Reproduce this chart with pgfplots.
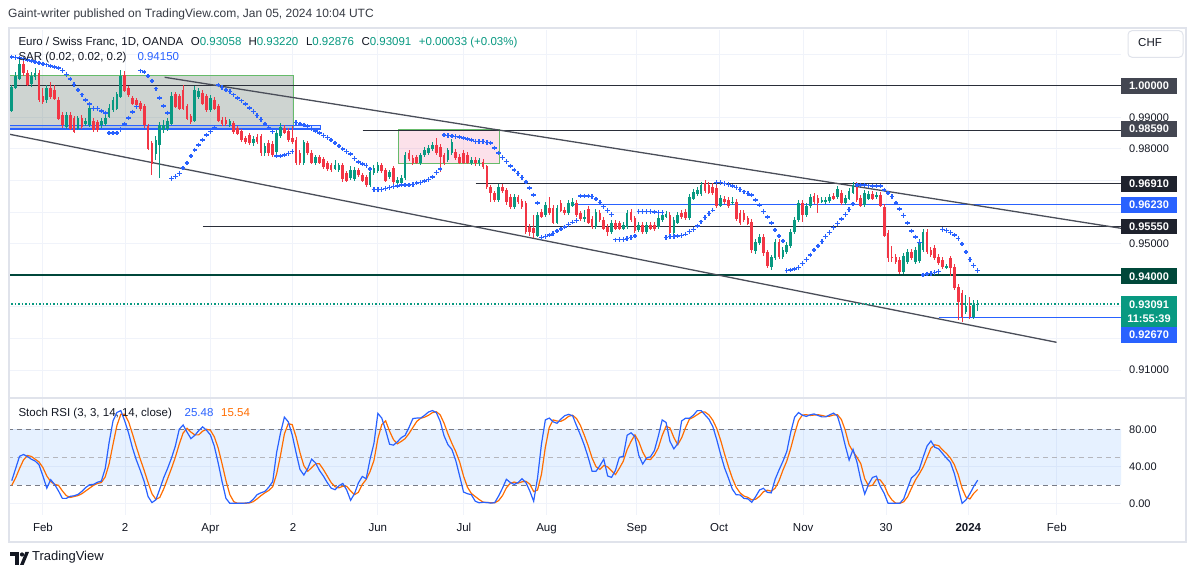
\documentclass[border=0pt]{standalone}
\usepackage{pgfplots}
\pgfplotsset{compat=1.18}
\usepackage{pgfplotstable}
\usepackage{fontspec}
\setmainfont{Liberation Sans}
\definecolor{upc}{HTML}{089981}
\definecolor{dnc}{HTML}{F23645}
\definecolor{sarc}{HTML}{2962FF}
\definecolor{orc}{HTML}{FF6D00}
\definecolor{txt}{HTML}{131722}
\definecolor{gridc}{HTML}{F0F3FA}
\definecolor{framec}{HTML}{E0E3EB}
\definecolor{linec}{HTML}{2A2E39}
\definecolor{trendc}{HTML}{4A4E59}
\definecolor{greenl}{HTML}{00473B}
\definecolor{boxbase}{HTML}{5D7268}
\definecolor{boxe}{HTML}{66BB6A}
\definecolor{pinkbase}{HTML}{E91E63}
\definecolor{dashc}{HTML}{787B86}
\definecolor{lblc}{HTML}{434651}
\definecolor{lbld}{HTML}{1E222D}
\definecolor{lblg}{HTML}{00483A}

\pgfplotstableread{
i O H L C
-8 0.9921 1.0002 0.9917 0.9994
-7 0.9994 1.0043 0.9990 1.0028
-6 1.0024 1.0088 1.0018 1.0069
-3 1.0005 1.0043 0.9996 1.0028
-2 1.0028 1.0056 1.0018 1.0040
1 0.9955 1.0002 0.9945 0.9992
6 0.9870 0.9917 0.9863 0.9907
9 0.9865 0.9904 0.9860 0.9897
11 0.9881 0.9898 0.9872 0.9886
12 0.9876 0.9939 0.9869 0.9928
15 0.9876 0.9898 0.9866 0.9886
16 0.9879 0.9907 0.9872 0.9897
17 0.9902 0.9942 0.9898 0.9928
18 0.9923 0.9964 0.9917 0.9955
19 0.9928 0.9980 0.9923 0.9971
20 0.9965 1.0050 0.9961 1.0029
29 0.9786 0.9841 0.9765 0.9828
30 0.9812 0.9885 0.9709 0.9876
31 0.9860 0.9891 0.9850 0.9876
32 0.9865 0.9898 0.9857 0.9886
33 0.9881 0.9980 0.9876 0.9965
39 0.9891 0.9999 0.9885 0.9986
40 0.9965 0.9993 0.9958 0.9981
43 0.9923 0.9971 0.9917 0.9960
48 0.9876 0.9895 0.9869 0.9886
54 0.9819 0.9841 0.9809 0.9831
57 0.9787 0.9819 0.9777 0.9809
60 0.9790 0.9860 0.9781 0.9850
61 0.9841 0.9883 0.9834 0.9869
67 0.9755 0.9828 0.9749 0.9819
70 0.9755 0.9781 0.9749 0.9774
75 0.9739 0.9765 0.9733 0.9749
76 0.9733 0.9755 0.9727 0.9749
79 0.9708 0.9746 0.9701 0.9733
80 0.9705 0.9743 0.9698 0.9733
84 0.9686 0.9733 0.9679 0.9727
85 0.9724 0.9749 0.9717 0.9739
86 0.9730 0.9758 0.9724 0.9749
89 0.9711 0.9733 0.9705 0.9727
91 0.9692 0.9711 0.9682 0.9701
92 0.9692 0.9717 0.9686 0.9708
93 0.9708 0.9790 0.9701 0.9781
97 0.9755 0.9787 0.9749 0.9781
98 0.9781 0.9806 0.9774 0.9796
99 0.9787 0.9812 0.9781 0.9803
100 0.9800 0.9822 0.9793 0.9812
104 0.9765 0.9803 0.9758 0.9796
105 0.9787 0.9831 0.9781 0.9822
110 0.9755 0.9774 0.9749 0.9765
112 0.9755 0.9771 0.9746 0.9762
117 0.9638 0.9689 0.9632 0.9679
121 0.9616 0.9657 0.9610 0.9648
127 0.9527 0.9600 0.9521 0.9591
129 0.9591 0.9632 0.9584 0.9622
132 0.9568 0.9622 0.9562 0.9613
135 0.9597 0.9638 0.9591 0.9629
136 0.9622 0.9644 0.9616 0.9632
139 0.9578 0.9606 0.9568 0.9584
142 0.9553 0.9610 0.9546 0.9600
146 0.9537 0.9575 0.9530 0.9565
149 0.9549 0.9568 0.9543 0.9559
150 0.9553 0.9606 0.9546 0.9597
153 0.9543 0.9568 0.9537 0.9559
155 0.9537 0.9568 0.9530 0.9559
158 0.9553 0.9591 0.9546 0.9581
159 0.9575 0.9600 0.9568 0.9591
160 0.9587 0.9603 0.9581 0.9594
162 0.9534 0.9584 0.9527 0.9575
163 0.9568 0.9600 0.9562 0.9591
166 0.9581 0.9657 0.9575 0.9648
167 0.9644 0.9673 0.9638 0.9663
168 0.9657 0.9679 0.9651 0.9670
169 0.9657 0.9695 0.9651 0.9686
174 0.9622 0.9654 0.9616 0.9644
177 0.9629 0.9648 0.9622 0.9632
183 0.9477 0.9515 0.9467 0.9505
184 0.9502 0.9530 0.9496 0.9521
187 0.9426 0.9464 0.9417 0.9455
188 0.9455 0.9515 0.9448 0.9505
190 0.9458 0.9490 0.9452 0.9480
191 0.9474 0.9505 0.9467 0.9496
192 0.9493 0.9546 0.9486 0.9537
193 0.9537 0.9584 0.9530 0.9575
194 0.9575 0.9638 0.9568 0.9629
196 0.9591 0.9629 0.9584 0.9619
197 0.9619 0.9657 0.9613 0.9648
200 0.9635 0.9648 0.9629 0.9638
201 0.9632 0.9648 0.9625 0.9638
202 0.9635 0.9657 0.9629 0.9648
204 0.9648 0.9682 0.9641 0.9673
206 0.9629 0.9654 0.9622 0.9644
207 0.9644 0.9676 0.9638 0.9667
208 0.9663 0.9695 0.9657 0.9686
211 0.9622 0.9670 0.9616 0.9660
212 0.9644 0.9667 0.9638 0.9657
214 0.9648 0.9663 0.9641 0.9654
221 0.9410 0.9471 0.9404 0.9461
222 0.9442 0.9483 0.9436 0.9474
224 0.9442 0.9490 0.9436 0.9480
225 0.9445 0.9515 0.9439 0.9505
226 0.9480 0.9546 0.9474 0.9537
232 0.9426 0.9436 0.9420 0.9429
237 0.9284 0.9338 0.9277 0.9303
239 0.9268 0.9322 0.9261 0.9306
240 0.93058 0.93220 0.92876 0.93091
}\uptab

\pgfplotstableread{
i O H L C
-5 1.0069 1.0081 1.0031 1.0040
-4 1.0040 1.0050 0.9999 1.0005
-1 1.0040 1.0050 0.9948 0.9955
0 0.9967 0.9993 0.9942 0.9950
2 0.9992 1.0012 0.9958 0.9965
3 0.9986 1.0002 0.9955 0.9960
4 0.9955 0.9964 0.9891 0.9897
5 0.9907 0.9917 0.9866 0.9876
7 0.9907 0.9917 0.9860 0.9865
8 0.9897 0.9904 0.9850 0.9854
10 0.9897 0.9907 0.9863 0.9870
13 0.9886 0.9898 0.9853 0.9860
14 0.9883 0.9891 0.9853 0.9860
21 1.0034 1.0047 0.9980 0.9986
22 0.9992 0.9999 0.9964 0.9971
23 0.9960 0.9967 0.9939 0.9944
24 0.9955 0.9961 0.9933 0.9939
25 0.9944 0.9952 0.9920 0.9928
26 0.9934 0.9942 0.9866 0.9876
27 0.9870 0.9879 0.9796 0.9802
28 0.9818 0.9825 0.9717 0.9754
34 0.9971 0.9980 0.9929 0.9934
35 0.9965 0.9974 0.9923 0.9928
36 0.9986 1.0002 0.9923 0.9928
37 0.9934 0.9942 0.9891 0.9897
38 0.9902 0.9910 0.9879 0.9886
41 0.9976 0.9986 0.9939 0.9944
42 0.9965 0.9974 0.9917 0.9923
44 0.9955 0.9964 0.9923 0.9928
45 0.9934 0.9942 0.9885 0.9891
46 0.9891 0.9901 0.9872 0.9881
47 0.9891 0.9901 0.9872 0.9881
49 0.9881 0.9888 0.9847 0.9854
50 0.9865 0.9872 0.9844 0.9849
51 0.9854 0.9863 0.9822 0.9828
52 0.9833 0.9841 0.9815 0.9823
53 0.9844 0.9850 0.9812 0.9819
55 0.9838 0.9847 0.9815 0.9822
56 0.9838 0.9847 0.9777 0.9787
58 0.9819 0.9828 0.9777 0.9787
59 0.9815 0.9825 0.9774 0.9781
62 0.9866 0.9876 0.9847 0.9853
63 0.9857 0.9866 0.9822 0.9828
64 0.9834 0.9872 0.9815 0.9822
65 0.9828 0.9838 0.9749 0.9755
66 0.9787 0.9796 0.9749 0.9755
68 0.9819 0.9825 0.9781 0.9787
69 0.9787 0.9796 0.9752 0.9758
71 0.9774 0.9781 0.9752 0.9758
72 0.9768 0.9774 0.9736 0.9743
73 0.9755 0.9762 0.9730 0.9739
74 0.9749 0.9755 0.9727 0.9733
77 0.9749 0.9755 0.9695 0.9705
78 0.9724 0.9730 0.9695 0.9701
81 0.9733 0.9739 0.9711 0.9717
82 0.9717 0.9724 0.9695 0.9701
83 0.9711 0.9717 0.9679 0.9686
87 0.9749 0.9755 0.9724 0.9730
88 0.9733 0.9739 0.9695 0.9701
90 0.9739 0.9746 0.9689 0.9695
94 0.9787 0.9796 0.9762 0.9768
95 0.9771 0.9781 0.9749 0.9755
96 0.9774 0.9781 0.9752 0.9758
101 0.9812 0.9834 0.9781 0.9787
102 0.9806 0.9815 0.9727 0.9774
103 0.9781 0.9787 0.9749 0.9755
106 0.9790 0.9800 0.9765 0.9771
107 0.9774 0.9784 0.9752 0.9758
108 0.9787 0.9796 0.9752 0.9758
109 0.9781 0.9790 0.9752 0.9758
111 0.9765 0.9774 0.9746 0.9755
113 0.9758 0.9768 0.9736 0.9743
114 0.9743 0.9749 0.9673 0.9679
115 0.9679 0.9686 0.9632 0.9660
116 0.9660 0.9667 0.9632 0.9638
118 0.9679 0.9689 0.9660 0.9667
119 0.9670 0.9676 0.9622 0.9632
120 0.9648 0.9657 0.9610 0.9616
122 0.9648 0.9654 0.9625 0.9632
123 0.9635 0.9641 0.9610 0.9616
124 0.9629 0.9635 0.9530 0.9537
125 0.9553 0.9562 0.9524 0.9537
126 0.9549 0.9591 0.9518 0.9534
128 0.9600 0.9610 0.9581 0.9587
130 0.9613 0.9648 0.9591 0.9597
131 0.9613 0.9622 0.9562 0.9568
133 0.9629 0.9638 0.9600 0.9606
134 0.9606 0.9616 0.9591 0.9597
137 0.9629 0.9638 0.9584 0.9591
138 0.9597 0.9603 0.9572 0.9578
140 0.9610 0.9619 0.9562 0.9568
141 0.9578 0.9587 0.9546 0.9553
143 0.9597 0.9606 0.9568 0.9575
144 0.9575 0.9584 0.9543 0.9549
145 0.9553 0.9562 0.9524 0.9537
147 0.9565 0.9575 0.9543 0.9549
148 0.9565 0.9572 0.9543 0.9549
151 0.9600 0.9610 0.9568 0.9575
152 0.9581 0.9587 0.9534 0.9540
154 0.9559 0.9568 0.9530 0.9537
156 0.9559 0.9568 0.9543 0.9549
157 0.9559 0.9568 0.9540 0.9546
161 0.9591 0.9600 0.9527 0.9534
164 0.9597 0.9606 0.9578 0.9584
165 0.9600 0.9610 0.9575 0.9581
170 0.9692 0.9701 0.9660 0.9667
171 0.9686 0.9695 0.9657 0.9663
172 0.9679 0.9692 0.9654 0.9660
173 0.9676 0.9686 0.9613 0.9619
175 0.9641 0.9651 0.9625 0.9632
176 0.9638 0.9648 0.9613 0.9619
178 0.9632 0.9641 0.9572 0.9578
179 0.9597 0.9606 0.9559 0.9565
180 0.9597 0.9606 0.9568 0.9575
181 0.9581 0.9587 0.9559 0.9565
182 0.9568 0.9578 0.9471 0.9480
185 0.9521 0.9530 0.9461 0.9471
186 0.9471 0.9480 0.9423 0.9429
189 0.9505 0.9515 0.9452 0.9458
195 0.9629 0.9638 0.9568 0.9591
198 0.9651 0.9660 0.9625 0.9632
199 0.9644 0.9654 0.9597 0.9629
203 0.9651 0.9660 0.9638 0.9644
205 0.9660 0.9670 0.9622 0.9629
209 0.9686 0.9695 0.9632 0.9638
210 0.9644 0.9654 0.9616 0.9622
213 0.9657 0.9667 0.9638 0.9644
215 0.9654 0.9663 0.9616 0.9622
216 0.9616 0.9625 0.9521 0.9527
217 0.9534 0.9543 0.9442 0.9455
218 0.9458 0.9493 0.9442 0.9455
219 0.9458 0.9467 0.9436 0.9442
220 0.9448 0.9458 0.9404 0.9410
223 0.9474 0.9483 0.9448 0.9455
227 0.9537 0.9546 0.9467 0.9474
228 0.9480 0.9490 0.9458 0.9464
229 0.9486 0.9496 0.9448 0.9455
230 0.9458 0.9467 0.9433 0.9439
231 0.9448 0.9458 0.9420 0.9426
233 0.9452 0.9461 0.9398 0.9423
234 0.9426 0.9436 0.9353 0.9360
235 0.9363 0.9373 0.9258 0.9315
236 0.9344 0.9353 0.9252 0.9268
238 0.9303 0.9331 0.9261 0.9268
}\dntab

\pgfplotstableread{
i sar
-8 1.0091
-7 1.0089
-6 1.0088
-5 1.0085
-4 1.0081
-3 1.0078
-2 1.0075
-1 1.0072
0 1.0069
1 1.0066
2 1.0062
3 1.0059
4 1.0056
5 1.0048
6 1.0036
7 1.0021
8 1.0004
9 0.9986
10 0.9971
11 0.9955
12 0.9942
13 0.9928
14 0.9928
15 0.9920
16 0.9914
17 0.9850
18 0.9850
19 0.9850
20 0.9861
21 0.9879
22 0.9898
23 0.9917
24 0.9933
25 1.0047
26 1.0043
27 1.0031
28 1.0015
29 0.9990
30 0.9961
31 0.9936
32 0.9914
33 0.9707
34 0.9713
35 0.9722
36 0.9739
37 0.9755
38 0.9777
39 0.9796
40 0.9812
41 0.9828
42 0.9844
43 0.9854
44 0.9868
45 1.0002
46 0.9995
47 0.9986
48 0.9981
49 0.9971
50 0.9961
51 0.9952
52 0.9942
53 0.9929
54 0.9918
55 0.9906
56 0.9893
57 0.9879
58 0.9866
59 0.9855
60 0.9777
61 0.9777
62 0.9781
63 0.9786
64 0.9792
65 0.9883
66 0.9879
67 0.9876
68 0.9871
69 0.9865
70 0.9857
71 0.9850
72 0.9842
73 0.9836
74 0.9828
75 0.9819
76 0.9809
77 0.9800
78 0.9792
79 0.9784
80 0.9770
81 0.9758
82 0.9752
83 0.9747
84 0.9736
85 0.9672
86 0.9672
87 0.9672
88 0.9675
89 0.9678
90 0.9681
91 0.9682
92 0.9686
93 0.9686
94 0.9686
95 0.9687
96 0.9692
97 0.9694
98 0.9698
99 0.9703
100 0.9711
101 0.9725
102 0.9736
103 0.9844
104 0.9842
105 0.9841
106 0.9839
107 0.9838
108 0.9834
109 0.9831
110 0.9828
111 0.9823
112 0.9823
113 0.9823
114 0.9820
115 0.9819
116 0.9803
117 0.9787
118 0.9773
119 0.9760
120 0.9746
121 0.9733
122 0.9722
123 0.9709
124 0.9695
125 0.9676
126 0.9654
127 0.9629
128 0.9519
129 0.9522
130 0.9527
131 0.9533
132 0.9540
133 0.9546
134 0.9553
135 0.9561
136 0.9568
137 0.9573
138 0.9651
139 0.9651
140 0.9651
141 0.9649
142 0.9641
143 0.9631
144 0.9617
145 0.9605
146 0.9593
147 0.9512
148 0.9513
149 0.9514
150 0.9517
151 0.9520
152 0.9524
153 0.9602
154 0.9602
155 0.9601
156 0.9601
157 0.9600
158 0.9599
159 0.9599
160 0.9520
161 0.9522
162 0.9523
163 0.9524
164 0.9526
165 0.9530
166 0.9538
167 0.9545
168 0.9556
169 0.9569
170 0.9582
171 0.9596
172 0.9606
173 0.9693
174 0.9693
175 0.9691
176 0.9688
177 0.9682
178 0.9678
179 0.9672
180 0.9664
181 0.9659
182 0.9654
183 0.9638
184 0.9622
185 0.9602
186 0.9584
187 0.9565
188 0.9543
189 0.9524
190 0.9508
191 0.9415
192 0.9417
193 0.9420
194 0.9425
195 0.9438
196 0.9450
197 0.9464
198 0.9480
199 0.9493
200 0.9506
201 0.9522
202 0.9536
203 0.9552
204 0.9564
205 0.9578
206 0.9593
207 0.9609
208 0.9625
209 0.9686
210 0.9686
211 0.9686
212 0.9683
213 0.9682
214 0.9682
215 0.9682
216 0.9670
217 0.9660
218 0.9649
219 0.9629
220 0.9610
221 0.9589
222 0.9565
223 0.9540
224 0.9521
225 0.9504
226 0.9401
227 0.9404
228 0.9406
229 0.9408
230 0.9411
231 0.9545
232 0.9541
233 0.9535
234 0.9527
235 0.9517
236 0.9499
237 0.9474
238 0.9450
239 0.9431
240 0.9415
}\sartab

\pgfplotstableread{
i K D
-8 25 20
-7 38 28
-6 51 38
-5 53 47
-4 51 52
-3 48 51
-2 46 48
-1 42 45
0 30 39
1 17 30
2 26 24
3 21 21
4 14 20
5 6 14
6 6 9
7 8.2 7
8 8.8 8
9 10.2 9
10 13.5 11
11 17.7 14
12 20.6 17
13 21 20
14 23.3 22
15 24.5 23
16 38 29
17 66 43
18 89 64
19 98 84
20 100 96
21 89 96
22 76 88
23 60 75
24 47 61
25 36 48
26 24 36
27 8 23
28 1.5 11
29 4.5 5
30 16 7
31 28 16
32 38 27
33 49 38
34 62 50
35 80 64
36 84.6 76
37 77 81
38 70 77
39 73.5 74
40 78.5 74
41 82.6 78
42 79 80
43 74 79
44 62 72
45 44 60
46 24 43
47 6 25
48 0.7 10
49 0.7 2.5
50 0.7 0.7
51 0.7 0.7
52 1 0.8
53 1.5 1.1
54 5 2.5
55 10 5.5
56 12 9
57 13.5 12
58 18 14.5
59 24 18.5
60 55 32
61 76 52
62 93 75
63 88 86
64 74 85
65 55 72
66 37 55
67 31 41
68 38 35
69 48 39
70 44 43
71 36 43
72 30 37
73 23 30
74 17 23
75 15.3 18.5
76 19.5 17.3
77 22 19
78 15 19
79 4 14
80 11 10
81 22.5 12.5
82 29.5 21
83 27 26.3
84 48 34.8
85 65 46.7
86 97 70
87 92 85
88 79 89
89 64 78
90 63 69
91 66.5 64.5
92 71 67
93 73.5 70
94 82 75.5
95 91.5 82
96 92 88.5
97 92 91.8
98 95 93
99 98.5 95
100 100 97.8
101 98 98.8
102 88.5 95.5
103 73 86.5
104 63.5 75
105 58.5 65
106 46.5 56
107 30 45
108 12.8 29.8
109 11 18
110 10 11.3
111 3 8
112 1.3 4.8
113 1.8 2
114 1.6 1.6
115 0.9 1.4
116 1.5 1.3
117 8.5 3.6
118 17 9
119 26.5 17.3
120 23 22.2
121 21 23.5
122 23 22.3
123 27 23.7
124 23 24.3
125 14 21.3
126 3 13.3
127 28 15
128 64 31.7
129 90 60.7
130 92 82
131 88 90
132 86.4 88.8
133 91 88.5
134 94.6 90.7
135 96 93.9
136 94.5 95
137 84 91.5
138 74 84.2
139 63 73.7
140 50 62.3
141 35 49.3
142 35 40
143 41 37
144 48 41.3
145 30 39.7
146 28.5 35.5
147 36 31.5
148 50 38.2
149 51 45.7
150 73.6 58.2
151 76.2 67
152 72 74
153 52 66.7
154 42.8 55.6
155 49.3 48
156 50.6 47.6
157 57.2 52.4
158 72.6 60.1
159 90 73.3
160 87.3 83.3
161 67 81.4
162 59 71.1
163 64.6 63.5
164 89 70.9
165 91.8 81.8
166 91.8 90.9
167 95 92.9
168 100 95.6
169 100 98.3
170 95.4 98.5
171 90.8 95.4
172 82.8 89.7
173 69 80.9
174 53.2 68.3
175 38.8 53.7
176 27.9 40
177 16 27.6
178 9.9 17.9
179 9.7 11.9
180 6 8.5
181 5.5 7.1
182 1.8 4.4
183 7.9 5.1
184 15 8.2
185 16.8 13.2
186 12.5 14.8
187 11.9 13.7
188 26.4 16.9
189 36.4 24.9
190 45.7 36.2
191 56.3 46.1
192 76.8 59.6
193 92.9 75.3
194 97.9 89.2
195 95 95.3
196 93.8 95.6
197 95.5 94.8
198 96.4 95.2
199 94.8 95.6
200 93.3 94.8
201 93.3 93.8
202 95.4 94
203 97.3 95.3
204 94.1 95.6
205 80.2 90.5
206 62.6 79
207 47 63.3
208 58.5 56
209 45 50.2
210 25.7 43.1
211 10.7 27.1
212 21.2 19.2
213 28.5 20.1
214 29.8 26.5
215 18.9 25.7
216 11.4 20
217 0.7 10.3
218 0.7 4.3
219 0.7 0.7
220 0.7 0.7
221 5.5 2.3
222 17 7.7
223 28 16.8
224 31.5 25.5
225 37 32.2
226 50 39.5
227 62 49.7
228 67.5 59.8
229 60.7 63.4
230 59 62.4
231 54 57.9
232 49.1 54
233 44.6 49.2
234 32.8 42.2
235 17.1 31.5
236 0.7 16.9
237 4.4 7.4
238 11 5.4
239 18.9 11.4
240 25.48 15.54
}\stochtab

\newcommand{\fs}{\fontsize{11.5}{13.5}\selectfont}
\newcommand{\fl}{\fontsize{11}{13}\selectfont}
\newcommand{\plabel}[3]{%
  \fill[#1] (1121,{#2-7.8}) rectangle (1177,{#2+7.8});
  \node[text=white,font=\fl\bfseries,inner sep=0pt] at (1149,#2) {#3};}

\begin{document}
\begin{tikzpicture}[x=1pt,y=1pt]
\useasboundingbox (0,0) rectangle (1195,577);
\fill[white] (0,0) rectangle (1195,577);

% ---------------- price pane ----------------
\begin{axis}[
  at={(10pt,179pt)}, anchor=south west,
  width=1111pt, height=368pt, scale only axis,
  xmin=-8.45, xmax=276.8, ymin=0.90114, ymax=1.01763,
  axis line style={draw=none}, major tick length=0pt,
  xtick={0,21.1,43,64.2,86,108.1,129.3,152.5,173.6,195.2,216.5,237.6,260.3},
  xticklabels={},
  ytick={0.91,0.95,0.98,0.99},
  extra y ticks={0.92,0.93,0.94,0.96,0.97,1.00,1.01}, extra y tick labels={},
  yticklabel pos=right, scaled y ticks=false,
  grid=major, major grid style={draw=gridc, line width=1pt},
  yticklabel style={anchor=west, inner sep=0pt, xshift=8pt, font=\fl, text=txt,
    /pgf/number format/fixed, /pgf/number format/fixed zerofill,
    /pgf/number format/precision=5, /pgf/number format/assume math mode=true},
]
% drawings (rectangles)
\fill[boxbase, fill opacity=0.3] (axis cs:-9,1.0033) rectangle (axis cs:64.4,0.9865);
\draw[boxe, line width=1pt] (axis cs:-9,1.0033) -- (axis cs:64.4,1.0033) -- (axis cs:64.4,0.9865) -- (axis cs:-9,0.9865);
\fill[sarc, fill opacity=0.15] (axis cs:-9,0.98731) rectangle (axis cs:71.3,0.98629);
\draw[sarc, line width=1.1pt] (axis cs:-9,0.98731) -- (axis cs:71.3,0.98731) -- (axis cs:71.3,0.98629) -- (axis cs:-9,0.98629);
\fill[pinkbase, fill opacity=0.13] (axis cs:91.2,0.98620) rectangle (axis cs:117.2,0.97544);
\draw[boxe, line width=1pt] (axis cs:91.2,0.98620) rectangle (axis cs:117.2,0.97544);
% horizontal levels
\draw[linec, line width=1.2pt] (axis cs:-9,1.0) -- (axis cs:278,1.0);
\draw[linec, line width=1.2pt] (axis cs:82.1,0.9859) -- (axis cs:278,0.9859);
\draw[linec, line width=1.2pt] (axis cs:111.1,0.9691) -- (axis cs:278,0.9691);
\draw[linec, line width=1.2pt] (axis cs:41.1,0.9555) -- (axis cs:278,0.9555);
\draw[sarc, line width=1.1pt] (axis cs:135.8,0.9623) -- (axis cs:278,0.9623);
\draw[greenl, line width=1.6pt] (axis cs:-9,0.94) -- (axis cs:278,0.94);
\draw[sarc, line width=1.1pt] (axis cs:230,0.9267) -- (axis cs:278,0.9267);
% channel
\draw[trendc, line width=1.3pt] (axis cs:31.25,1.00266) -- (axis cs:277.05,0.95481);
\draw[trendc, line width=1.3pt] (axis cs:-8.55,0.98462) -- (axis cs:260.25,0.91877);
% current price
\draw[upc, line width=1.3pt, dash pattern=on 1.3pt off 2.2pt] (axis cs:-9,0.93091) -- (axis cs:278,0.93091);
% candles: wicks
\addplot[draw=none, forget plot, error bars/.cd, y dir=both, y explicit, error mark=none,
  error bar style={draw=upc, solid, line width=1pt}]
  table[x=i, y expr={(\thisrow{H}+\thisrow{L})/2}, y error expr={(\thisrow{H}-\thisrow{L})/2}] {\uptab};
\addplot[draw=none, forget plot, error bars/.cd, y dir=both, y explicit, error mark=none,
  error bar style={draw=dnc, solid, line width=1pt}]
  table[x=i, y expr={(\thisrow{H}+\thisrow{L})/2}, y error expr={(\thisrow{H}-\thisrow{L})/2}] {\dntab};
% candles: bodies
\addplot[draw=none, forget plot, error bars/.cd, y dir=both, y explicit, error mark=none,
  error bar style={draw=upc, solid, line width=2.7pt}]
  table[x=i, y expr={(\thisrow{O}+\thisrow{C})/2}, y error expr={abs(\thisrow{C}-\thisrow{O})/2+0.00012}] {\uptab};
\addplot[draw=none, forget plot, error bars/.cd, y dir=both, y explicit, error mark=none,
  error bar style={draw=dnc, solid, line width=2.7pt}]
  table[x=i, y expr={(\thisrow{O}+\thisrow{C})/2}, y error expr={abs(\thisrow{C}-\thisrow{O})/2+0.00012}] {\dntab};
% SAR
\addplot[only marks, mark=+, mark size=2.3pt, sarc, mark options={line width=1.3pt}] table[x=i, y=sar] {\sartab};
\end{axis}

% ---------------- stoch pane ----------------
\begin{axis}[
  at={(10pt,62pt)}, anchor=south west,
  width=1111pt, height=117pt, scale only axis,
  xmin=-8.45, xmax=276.8, ymin=-11.78, ymax=113.5,
  axis line style={draw=none}, major tick length=0pt,
  xtick={0,21.1,43,64.2,86,108.1,129.3,152.5,173.6,195.2,216.5,237.6,260.3},
  xticklabels={Feb,2,Apr,2,Jun,Jul,Aug,Sep,Oct,Nov,30,\textbf{2024},Feb},
  xticklabel style={anchor=base, inner sep=0pt, yshift=-16.3pt, font=\fs, text=txt},
  ytick={0,40,80}, yticklabel pos=right,
  grid=major, major grid style={draw=gridc, line width=1pt},
  yticklabel style={anchor=west, inner sep=0pt, xshift=8pt, font=\fl, text=txt,
    /pgf/number format/fixed, /pgf/number format/fixed zerofill,
    /pgf/number format/precision=2, /pgf/number format/assume math mode=true},
]
\fill[sarc!80!cyan, fill opacity=0.11] (axis cs:-9,20) rectangle (axis cs:278,80);
\draw[dashc, line width=1pt, dash pattern=on 5pt off 4pt] (axis cs:-9,80) -- (axis cs:278,80);
\draw[dashc!55, line width=1pt, dash pattern=on 5pt off 4pt] (axis cs:-9,50) -- (axis cs:278,50);
\draw[dashc, line width=1pt, dash pattern=on 5pt off 4pt] (axis cs:-9,20) -- (axis cs:278,20);
\addplot[orc, line width=1.2pt, mark=none] table[x=i, y=D] {\stochtab};
\addplot[sarc, line width=1.2pt, mark=none] table[x=i, y=K] {\stochtab};
\end{axis}

% ---------------- frame ----------------
\draw[framec, line width=2pt] (9,35) rectangle (1186,549);
\draw[framec, line width=2pt] (9,179) -- (1186,179);

% ---------------- right labels ----------------
\plabel{lblc}{491.2}{1.00000}
\plabel{lblc}{447.8}{0.98590}
\plabel{lbld}{393.2}{0.96910}
\plabel{sarc}{372}{0.96230}
\plabel{lbld}{350.5}{0.95550}
\plabel{lblg}{300.7}{0.94000}
\fill[upc] (1121,250.3) rectangle (1177,281);
\node[text=white,font=\fl\bfseries,inner sep=0pt] at (1149,272.7) {0.93091};
\node[text=white,font=\fl\bfseries,inner sep=0pt] at (1149,258.7) {11:55:39};
\fill[sarc] (1121,234.3) rectangle (1177,249.7);
\node[text=white,font=\fl\bfseries,inner sep=0pt] at (1149,242) {0.92670};
% CHF button
\filldraw[fill=white, draw=framec, line width=1pt, rounded corners=4pt] (1128,519.7) rectangle (1183,546.3);
\node[anchor=mid west, inner sep=0pt, font=\fs, text=txt] at (1138,533) {CHF};

% ---------------- texts ----------------
\node[anchor=mid west, inner sep=0pt, font=\fontsize{12}{14}\selectfont, text=txt!85] at (8,562) {Gaint-writer published on TradingView.com, Jan 05, 2024 10:04 UTC};
\node[anchor=mid west, inner sep=0pt, font=\fs, text=txt] at (18.3,534.3) {Euro / Swiss Franc, 1D, OANDA};
\node[anchor=mid west, inner sep=0pt, font=\fs, text=txt] at (190.7,534.3) {O\textcolor{upc}{0.93058}};
\node[anchor=mid west, inner sep=0pt, font=\fs, text=txt] at (248.3,534.3) {H\textcolor{upc}{0.93220}};
\node[anchor=mid west, inner sep=0pt, font=\fs, text=txt] at (305.8,534.3) {L\textcolor{upc}{0.92876}};
\node[anchor=mid west, inner sep=0pt, font=\fs, text=txt] at (361.3,534.3) {C\textcolor{upc}{0.93091}};
\node[anchor=mid west, inner sep=0pt, font=\fs, text=upc] at (418.7,534.3) {+0.00033 (+0.03\%)};
\node[anchor=mid west, inner sep=0pt, font=\fs, text=txt] at (18.3,518.7) {SAR (0.02, 0.02, 0.2)};
\node[anchor=mid west, inner sep=0pt, font=\fs, text=sarc] at (137.3,518.7) {0.94150};
\node[anchor=mid west, inner sep=0pt, font=\fs, text=txt] at (18.3,163) {Stoch RSI (3, 3, 14, 14, close)};
\node[anchor=mid west, inner sep=0pt, font=\fs, text=sarc] at (184.5,163) {25.48};
\node[anchor=mid west, inner sep=0pt, font=\fs, text=orc] at (221,163) {15.54};

% TradingView logo
\fill[txt] (10,21) rectangle (19,25);
\fill[txt] (14.5,12) rectangle (19,25);
\fill[txt] (22,22.5) circle (2.1);
\fill[txt] (20,12) -- (23.6,12) -- (29,25) -- (25.4,25) -- cycle;
\node[anchor=mid west, inner sep=0pt, font=\fontsize{13}{15}\selectfont, text=txt] at (32,19) {TradingView};
\end{tikzpicture}
\end{document}
